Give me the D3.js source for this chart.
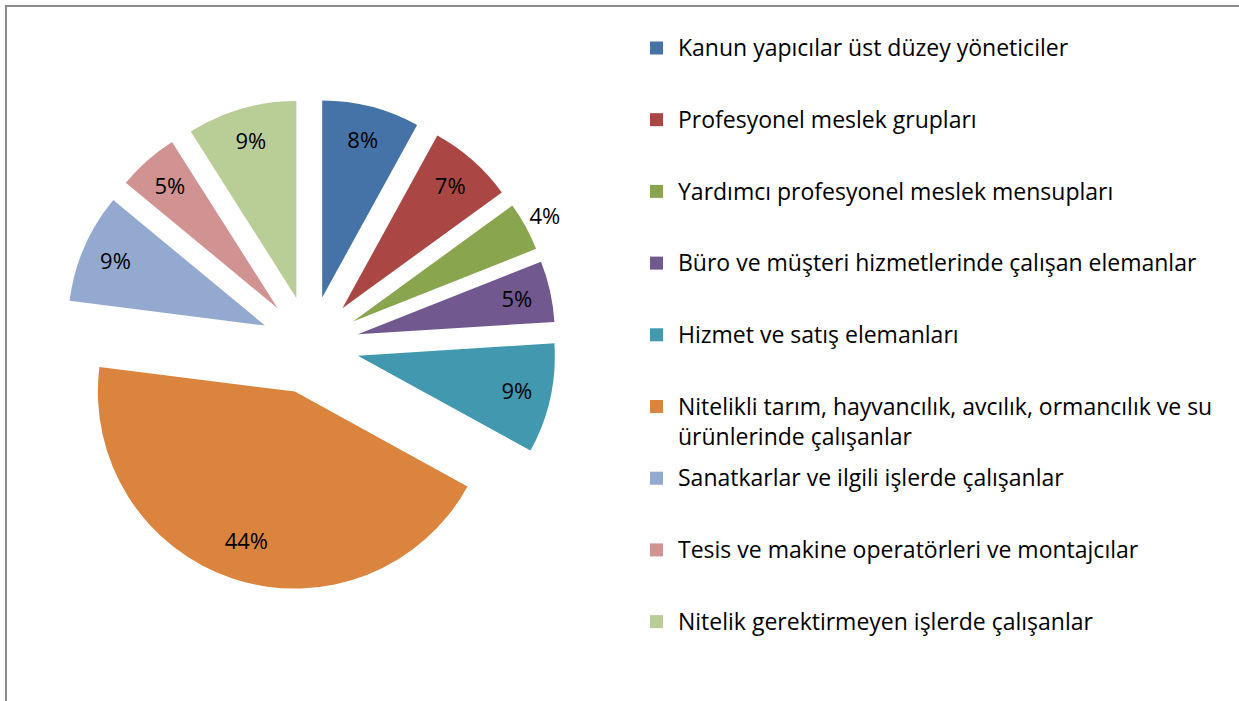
<!DOCTYPE html>
<html><head><meta charset="utf-8">
<script src="https://cdn.jsdelivr.net/npm/d3@7"></script>
<style>html,body{margin:0;padding:0;background:#fff;}svg{display:block;}</style>
</head><body>
<svg id="chart" width="1239" height="701"></svg>
<script>
const categories = [
  "Kanun yapıcılar üst düzey yöneticiler",
  "Profesyonel meslek grupları",
  "Yardımcı profesyonel meslek mensupları",
  "Büro ve müşteri hizmetlerinde çalışan elemanlar",
  "Hizmet ve satış elemanları",
  "Nitelikli tarım, hayvancılık, avcılık, ormancılık ve su ürünlerinde çalışanlar",
  "Sanatkarlar ve ilgili işlerde çalışanlar",
  "Tesis ve makine operatörleri ve montajcılar",
  "Nitelik gerektirmeyen işlerde çalışanlar"
];
const values = [8, 7, 4, 5, 9, 44, 9, 5, 9];
const colors = ["#4572A7","#AA4643","#89A54E","#71588F","#4198AF","#DB843D","#93A9CF","#D19392","#B9CD96"];

const W = 1239, H = 701;
const FONT = "'Open Sans', 'Noto Sans', sans-serif";
const FS = 23, LFS = 22;
const svg = d3.select("#chart");

// frame
svg.append("path").attr("d", `M6,${H} L6,6 L${W},6`).attr("fill","none").attr("stroke","#8c8c8c").attr("stroke-width",2);

const data = categories.map((c,i)=>({name:c, value:values[i], color:colors[i]}));
const pie = d3.pie().value(d=>d.value).sort(null);
const arcs = pie(data);
const cx = 310, cy = 345, r = 197, explode = 49;
const arc = d3.arc().innerRadius(0).outerRadius(r);
const total = d3.sum(values);

const g = svg.append("g").attr("transform",`translate(${cx},${cy})`);
arcs.forEach(a=>{
  const mid = (a.startAngle + a.endAngle)/2;
  const ox = Math.sin(mid)*explode, oy = -Math.cos(mid)*explode;
  const sg = g.append("g").attr("transform",`translate(${ox},${oy})`);
  sg.append("path").attr("d", arc(a)).attr("fill", a.data.color);
  const share = a.data.value/total;
  const lr = share < 0.045 ? r + 22 : (share > 0.3 ? 157 : 163);
  sg.append("text")
    .attr("x", Math.sin(mid)*lr).attr("y", -Math.cos(mid)*lr)
    .attr("text-anchor","middle").attr("dy","0.36em")
    .attr("font-family", FONT).attr("font-size", LFS).attr("fill","#000")
    .text(Math.round(share*100) + "%");
});

// legend
const lg = svg.append("g");
const rowY0 = 48, rowStep = 71.7, lineH = 30, sqX = 650, sqS = 13, txtX = 678, maxW = 556;
data.forEach((d,i)=>{
  const y = rowY0 + i*rowStep;
  lg.append("rect").attr("x", sqX).attr("y", y - sqS/2).attr("width", sqS).attr("height", sqS).attr("fill", d.color);
  const t = lg.append("text").attr("font-family", FONT).attr("font-size", FS).attr("fill","#000");
  const words = d.name.split(" ");
  let line = [], lines = [];
  const probe = lg.append("text").attr("font-family", FONT).attr("font-size", FS);
  words.forEach(w=>{
    const test = line.concat([w]).join(" ");
    probe.text(test);
    if (probe.node().getComputedTextLength() > maxW && line.length) { lines.push(line.join(" ")); line=[w]; }
    else line.push(w);
  });
  lines.push(line.join(" "));
  probe.remove();
  lines.forEach((l,k)=>{
    t.append("tspan").attr("x", txtX).attr("y", y + k*lineH).attr("dy","0.36em").text(l);
  });
});
</script>
</body></html>
